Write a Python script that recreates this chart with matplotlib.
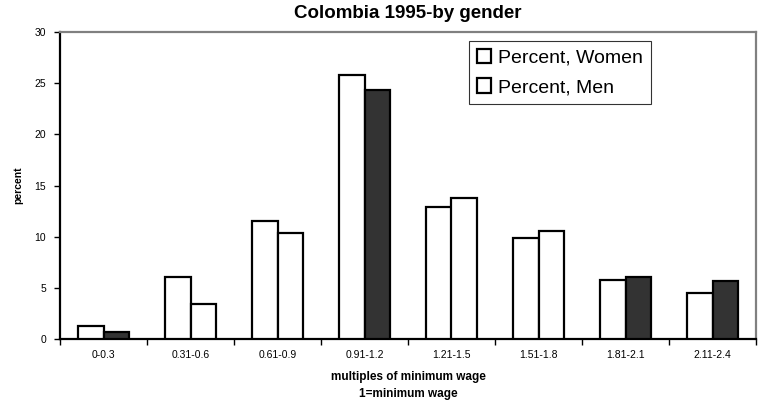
import matplotlib
matplotlib.use("Agg")
import matplotlib.pyplot as plt
from matplotlib.patches import Rectangle
import numpy as np

plt.rcParams['font.family'] = ['Liberation Sans', 'DejaVu Sans']

categories = ["0-0.3", "0.31-0.6", "0.61-0.9", "0.91-1.2",
              "1.21-1.5", "1.51-1.8", "1.81-2.1", "2.11-2.4"]
women = [1.3, 6.1, 11.5, 25.8, 12.9, 9.9, 5.8, 4.5]
men = [0.7, 3.4, 10.4, 24.3, 13.8, 10.6, 6.1, 5.7]
men_colors = ["#333333", "white", "white", "#333333",
              "white", "white", "#333333", "#333333"]
yticks = [0, 5, 10, 15, 20, 25, 30]

fig = plt.figure(figsize=(7.59, 4.04), dpi=100)
ax = fig.add_axes([60 / 759, 1 - 339 / 404, 696 / 759, 307 / 404])

x = np.arange(len(categories))
w = 0.29
ax.bar(x - w / 2, women, width=w, color="white", edgecolor="black",
       linewidth=1.6, zorder=3)
ax.bar(x + w / 2, men, width=w, color=men_colors, edgecolor="black",
       linewidth=1.6, zorder=3)

ax.set_xlim(-0.5, len(categories) - 0.5)
ax.set_ylim(0, 30)
ax.set_yticks(yticks)
ax.set_yticklabels([str(t) for t in yticks], fontsize=7.5)

# category boundaries carry the tick marks, centres carry the labels
ax.set_xticks(np.arange(len(categories) + 1) - 0.5)
ax.set_xticklabels([])
ax.set_xticks(x, minor=True)
ax.set_xticklabels(categories, minor=True, fontsize=7.5)
ax.tick_params(axis='x', which='minor', length=0, pad=8)
ax.tick_params(axis='x', which='major', length=4, width=1, direction='out')
ax.tick_params(axis='y', length=4, width=1, direction='out', pad=6)

for side in ("left", "bottom"):
    ax.spines[side].set_color("black")
    ax.spines[side].set_linewidth(1.6)
for side in ("top", "right"):
    ax.spines[side].set_color("#808080")
    ax.spines[side].set_linewidth(1.6)

ax.set_title("Colombia 1995-by gender", fontsize=13.5, fontweight="bold",
             pad=10)
ax.set_ylabel("percent", fontsize=7.5, fontweight="bold", labelpad=8)
ax.set_xlabel("multiples of minimum wage\n1=minimum wage", fontsize=8.5,
              fontweight="bold", labelpad=8, linespacing=1.5)

handles = [Rectangle((0, 0), 1, 1, facecolor="white", edgecolor="black",
                     linewidth=1.6) for _ in range(2)]
leg = ax.legend(handles, ["Percent, Women", "Percent, Men"],
                loc="upper left", bbox_to_anchor=((469 - 60) / 696, 1 - 9 / 307),
                fontsize=14, frameon=True, fancybox=False, edgecolor="black",
                handlelength=0.75, handleheight=0.75, handletextpad=0.35,
                borderpad=0.4, labelspacing=0.6, borderaxespad=0)
leg.get_frame().set_linewidth(0.8)

fig.savefig("out.png", dpi=100, facecolor="white")
